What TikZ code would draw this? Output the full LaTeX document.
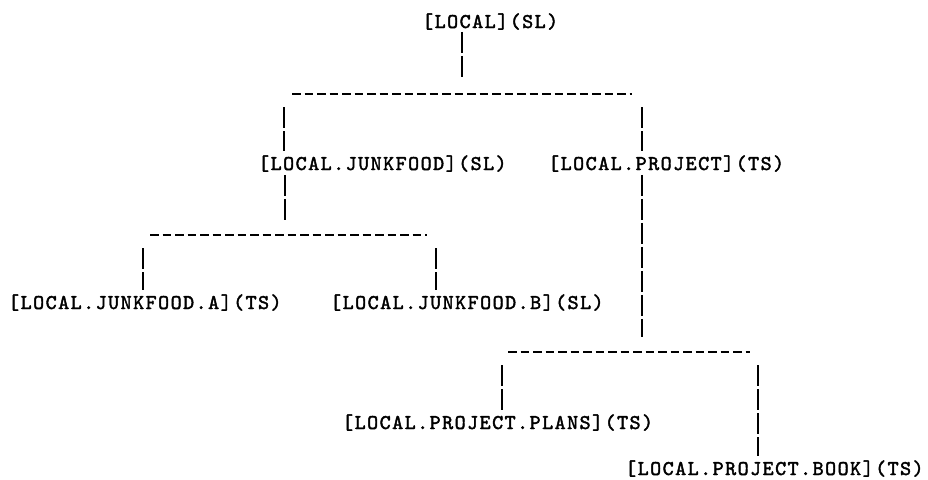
\documentclass[tikz,border=0pt]{standalone}
\usepackage{fontspec}
\newfontfamily\typer{lmmono10-regular.otf}[LetterSpace=7,FakeBold=2]

\begin{document}
\begin{tikzpicture}[x=1pt,y=-1pt,
		dir/.style={anchor=base west,inner sep=0pt,font=\fontsize{21}{24}\selectfont\typer},
		vbar/.style={line width=1.9pt,dash pattern=on 21pt off 3pt},
		hbar/.style={line width=2.6pt,dash pattern=on 8.5pt off 4pt}]
			\useasboundingbox (0,0) rectangle (928,479);
			%\draw[help lines,step=50] (0,0) grid (928,479);

			% directories
			\node[dir] (root) at (422,28) {[LOCAL](SL)};
			\node[dir] (junk) at (258,170) {[LOCAL.JUNKFOOD](SL)};
			\node[dir] (proj) at (548,170) {[LOCAL.PROJECT](TS)};
			\node[dir] (junka) at (8,309) {[LOCAL.JUNKFOOD.A](TS)};
			\node[dir] (junkb) at (330,309) {[LOCAL.JUNKFOOD.B](SL)};
			\node[dir] (plans) at (342,429) {[LOCAL.PROJECT.PLANS](TS)};
			\node[dir] (book) at (625,475) {[LOCAL.PROJECT.BOOK](TS)};

			% ends of the bars
			\coordinate (rootend) at (462,78);
			\coordinate (junkend) at (285,222);
			\coordinate (projend) at (642,337);
			\coordinate (a1) at (284,107);
			\coordinate (b1) at (642,107);
			\coordinate (a2) at (143,248);
			\coordinate (b2) at (436,248);
			\coordinate (a3) at (502,365);
			\coordinate (b3) at (758,365);

			% dashed rows
			\draw[hbar] (292,94) coordinate (h1) -- (632,94);
			\draw[hbar] (150,235) coordinate (h2) -- (427,235);
			\draw[hbar] (508,352) coordinate (h3) -- (750,352);

			\draw[vbar] ([yshift=-2pt]root.south -| rootend) -- (rootend);
			\draw[vbar,shorten >=4pt] (a1) -- (junk.north -| a1);
			\draw[vbar,shorten >=4pt] (b1) -- (proj.north -| b1);
			\draw[vbar] ([yshift=-3pt]junk.south -| junkend) -- (junkend);
			\draw[vbar] ([yshift=-3pt]proj.south -| projend) -- (projend);
			\draw[vbar,shorten >=4pt] (a2) -- (junka.north -| a2);
			\draw[vbar,shorten >=4pt] (b2) -- (junkb.north -| b2);
			\draw[vbar,shorten >=4pt] (a3) -- (plans.north -| a3);
			\draw[vbar,shorten >=4pt] (b3) -- (book.north -| b3);
		\end{tikzpicture}
\end{document}
